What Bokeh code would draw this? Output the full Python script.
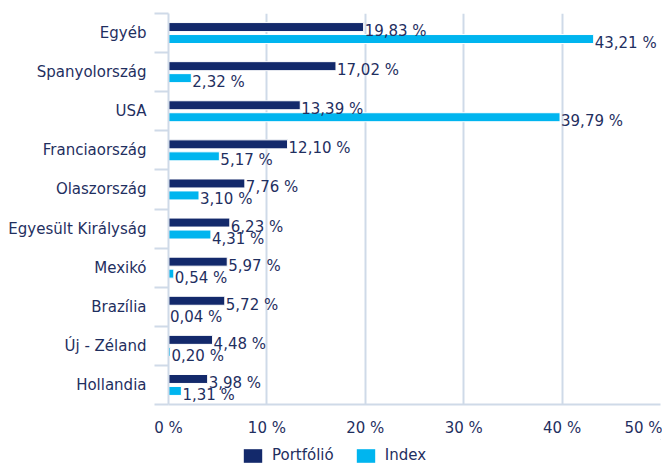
from bokeh.plotting import figure
from bokeh.layouts import column
from bokeh.models import ColumnDataSource, FixedTicker, Legend, LegendItem, Range1d
from bokeh.core.properties import value
from bokeh.embed import file_html
from bokeh.resources import INLINE

categories = ["Egyéb", "Spanyolország", "USA", "Franciaország", "Olaszország",
              "Egyesült Királyság", "Mexikó", "Brazília", "Új - Zéland", "Hollandia"]
portfolio = [19.83, 17.02, 13.39, 12.10, 7.76, 6.23, 5.97, 5.72, 4.48, 3.98]
index_vals = [43.21, 2.32, 39.79, 5.17, 3.10, 4.31, 0.54, 0.04, 0.20, 1.31]
series_names = ["Portfólió", "Index"]
x_ticks = [0, 10, 20, 30, 40, 50]
x_tick_labels = ["0 %", "10 %", "20 %", "30 %", "40 %", "50 %"]

NAVY = "#13296b"
CYAN = "#00b5ef"
TEXT = "#1f2f5f"
GRID = "#cfdae8"
FONT = "DejaVu Sans"

n = len(categories)
centers = [n - 0.5 - i for i in range(n)]
off = 0.153

def fmt(v):
    return f"{v:.2f}".replace(".", ",") + " %"

src_p = ColumnDataSource(dict(y=[c + off for c in centers], v=portfolio,
                              lab=[fmt(v) for v in portfolio]))
src_i = ColumnDataSource(dict(y=[c - off for c in centers], v=index_vals,
                              lab=[fmt(v) for v in index_vals]))

p = figure(output_backend="svg", toolbar_location=None,
           x_range=Range1d(0, 50), y_range=Range1d(0, n),
           frame_width=492, frame_height=391,
           min_border_left=168, min_border_top=13, min_border_right=2,
           min_border_bottom=35)
p.outline_line_color = None
p.background_fill_color = "white"

p.hbar(y="y", right="v", left=0, height=0.23, source=src_p,
       fill_color=NAVY, line_color="white", line_width=1)
p.hbar(y="y", right="v", left=0, height=0.23, source=src_i,
       fill_color=CYAN, line_color="white", line_width=1)

for src in (src_p, src_i):
    p.text(x="v", y="y", text="lab", source=src, x_offset=1, y_offset=4,
           text_baseline="middle", text_align="left",
           text_font=value(FONT), text_font_size="15px", text_color=TEXT)

# x axis
xa = p.xaxis[0]
xa.ticker = FixedTicker(ticks=x_ticks)
xa.major_label_overrides = {t: l for t, l in zip(x_ticks, x_tick_labels)}
xa.major_tick_out = 0
xa.major_tick_in = 0
xa.minor_tick_out = 0
xa.minor_tick_in = 0
xa.axis_line_color = GRID
xa.axis_line_width = 2
xa.major_label_standoff = 14
xa.major_label_text_font = FONT
xa.major_label_text_font_size = "15px"
xa.major_label_text_color = TEXT

# y axis
ya = p.yaxis[0]
ya.ticker = FixedTicker(ticks=centers, minor_ticks=list(range(n + 1)))
ya.major_label_overrides = {c: cat for c, cat in zip(centers, categories)}
ya.major_tick_out = 0
ya.major_tick_in = 0
ya.minor_tick_out = 14
ya.minor_tick_in = 0
ya.minor_tick_line_color = GRID
ya.minor_tick_line_width = 2
ya.axis_line_color = GRID
ya.axis_line_width = 2
ya.major_label_standoff = 8
ya.major_label_text_font = FONT
ya.major_label_text_font_size = "15px"
ya.major_label_text_color = TEXT

p.xgrid.grid_line_color = GRID
p.xgrid.grid_line_width = 2
p.ygrid.grid_line_color = None

# legend strip under the chart
lf = figure(output_backend="svg", toolbar_location=None, width=662, height=25,
            x_range=Range1d(0, 1), y_range=Range1d(0, 1),
            min_border_left=0, min_border_right=0, min_border_top=0,
            min_border_bottom=0)
lf.outline_line_color = None
lf.axis.visible = False
lf.grid.visible = False
swatch_src = ColumnDataSource(dict(y=[5.0], l=[5.0], r=[6.0]))
r1 = lf.hbar(y="y", left="l", right="r", height=0.5, source=swatch_src,
             fill_color=NAVY, line_color=None)
r2 = lf.hbar(y="y", left="l", right="r", height=0.5, source=swatch_src,
             fill_color=CYAN, line_color=None)
legend = Legend(items=[LegendItem(label=series_names[0], renderers=[r1]),
                       LegendItem(label=series_names[1], renderers=[r2])],
                orientation="horizontal", location=(73, 0),
                label_text_font=FONT, label_text_font_size="15px",
                label_text_color=TEXT, glyph_width=23, glyph_height=17,
                spacing=20, padding=0, margin=0, border_line_color=None,
                background_fill_alpha=0, label_standoff=8)
lf.add_layout(legend, "center")

layout = column(p, lf, spacing=0)
open("out.html", "w").write(file_html(layout, INLINE))
